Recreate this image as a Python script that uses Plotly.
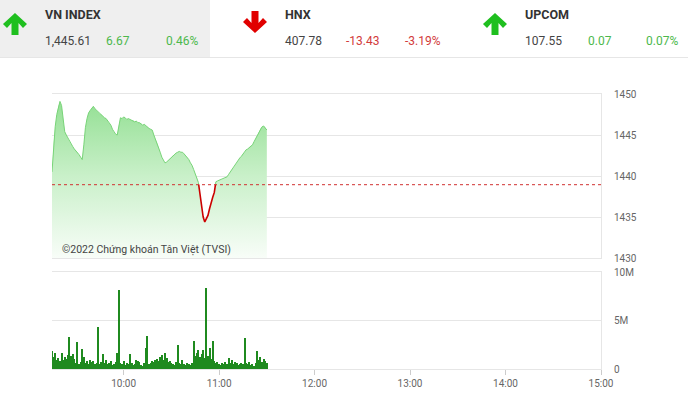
import pandas as pd
import plotly.graph_objects as go

# ---------------- data ----------------
session_start = "2022-01-01 09:15"
price = [
    1440.5, 1444.0, 1446.0, 1447.5, 1448.5, 1449.1, 1448.6, 1447.0, 1445.4, 1445.0,
    1444.6, 1444.2, 1443.9, 1443.6, 1443.3, 1443.1, 1442.9, 1442.6, 1442.3, 1442.0,
    1443.8, 1445.9, 1447.0, 1447.7, 1448.0, 1448.3, 1448.5, 1448.2, 1448.0, 1447.8,
    1447.6, 1447.5, 1447.3, 1447.1, 1447.0, 1446.7, 1446.4, 1446.2, 1445.7, 1445.3,
    1445.1, 1445.0, 1446.2, 1447.1, 1447.0, 1447.2, 1447.1, 1446.9, 1447.0, 1446.9,
    1446.8, 1446.8, 1446.6, 1446.7, 1446.5, 1446.5, 1446.4, 1446.2, 1446.3, 1446.1,
    1446.0, 1445.8, 1445.7, 1445.6, 1445.0, 1444.5, 1444.1, 1443.5, 1442.9, 1442.3,
    1441.9, 1441.6, 1441.7, 1441.9, 1442.1, 1442.3, 1442.5, 1442.6, 1442.8, 1442.9,
    1443.0, 1442.9, 1442.9, 1442.7, 1442.5, 1442.3, 1442.0, 1441.6, 1441.3, 1440.8,
    1440.3, 1439.9, 1439.2, 1437.7, 1436.1, 1435.0, 1434.4, 1434.8, 1435.2, 1436.0,
    1436.8, 1437.4, 1438.0, 1439.3, 1439.4, 1439.5, 1439.5, 1439.6, 1439.7, 1439.8,
    1439.9, 1440.2, 1440.5, 1440.8, 1441.0, 1441.3, 1441.6, 1441.9, 1442.2, 1442.4,
    1442.7, 1442.9, 1443.2, 1443.3, 1443.5, 1443.7, 1443.8, 1444.2, 1444.6, 1445.0,
    1445.4, 1445.8, 1446.0, 1446.1, 1445.9, 1445.61,
]
volume_m = [
    1.9, 1.2, 1.6, 0.9, 1.1, 0.8, 1.6, 0.9, 1.2, 1.0,
    1.4, 3.3, 1.3, 1.5, 1.0, 0.6, 2.8, 0.5, 0.7, 2.1,
    1.2, 0.6, 0.8, 0.5, 0.9, 0.7, 0.8, 0.5, 0.6, 4.3,
    0.5, 0.7, 1.5, 0.6, 0.9, 0.5, 0.6, 0.8, 0.4, 0.5,
    0.7, 1.7, 8.1, 0.6, 0.5, 0.8, 0.4, 0.6, 0.5, 1.5,
    0.6, 0.4, 0.5, 0.9, 0.8, 0.7, 0.4, 0.3, 0.6, 2.2,
    3.4, 0.5, 0.6, 0.8, 0.7, 0.9, 1.0, 0.8, 1.2, 1.4,
    0.9, 1.7, 1.1, 0.7, 0.8, 0.6, 0.5, 0.4, 0.7, 2.5,
    0.6, 0.5, 0.9, 0.5, 0.4, 0.6, 0.5, 0.4, 0.6, 2.9,
    1.3, 1.6, 2.0, 1.2, 1.5, 2.0, 1.1, 8.4, 1.3, 2.2,
    1.0, 2.9, 0.8, 0.6, 0.7, 0.5, 0.4, 0.6, 0.5, 0.7,
    0.5, 1.1, 0.6, 0.9, 0.5, 0.7, 0.6, 0.4, 0.5, 0.6,
    0.5, 3.2, 0.6, 0.5, 0.7, 0.4, 0.5, 0.3, 0.6, 1.9,
    0.9, 1.2, 0.7, 1.0, 0.8, 0.6,
]
reference_level = 1438.94
tick_times = ["10:00", "11:00", "12:00", "13:00", "14:00", "15:00"]
vol_tickvals = [0, 5e6, 10e6]
vol_ticktext = ["0", "5M", "10M"]
indices = [
    ("VN INDEX", "1,445.61", "6.67", "0.46%", "up"),
    ("HNX", "407.78", "-13.43", "-3.19%", "down"),
    ("UPCOM", "107.55", "0.07", "0.07%", "up"),
]

# ---------------- helpers ----------------
W, H = 688, 396
def px(x):
    return x / W
def py(y):
    return 1 - y / H

times = list(pd.date_range(session_start, periods=len(price), freq="min"))
volume = [v * 1e6 for v in volume_m]

# insert crossings of the reference level so the colour split is clean
xs, ys = [], []
for i in range(len(price)):
    xs.append(times[i]); ys.append(price[i])
    if i + 1 < len(price):
        a, b = price[i], price[i + 1]
        if (a - reference_level) * (b - reference_level) < 0:
            f = (reference_level - a) / (b - a)
            xs.append(times[i] + (times[i + 1] - times[i]) * f)
            ys.append(reference_level)
green_y = [y if y >= reference_level else None for y in ys]
red_y = [y if y <= reference_level else None for y in ys]

x_start = pd.Timestamp(session_start)
x_end = pd.Timestamp("2022-01-01 15:00")
tickvals = [pd.Timestamp("2022-01-01 " + t) for t in tick_times]

fig = go.Figure()
fig.add_trace(go.Scatter(
    x=xs, y=ys, mode="none", fill="tozeroy", xaxis="x2", yaxis="y2",
    fillgradient=dict(type="vertical", start=1430, stop=1450,
                      colorscale=[[0, "#f8fdf8"], [0.5, "#c9f0c9"], [1, "#8fde8f"]]),
    hoverinfo="skip", showlegend=False))
fig.add_trace(go.Scatter(x=xs, y=green_y, mode="lines", xaxis="x2", yaxis="y2",
                         line=dict(color="#78d478", width=1), connectgaps=False,
                         showlegend=False))
fig.add_trace(go.Scatter(x=xs, y=red_y, mode="lines", xaxis="x2", yaxis="y2",
                         line=dict(color="#cc0000", width=1.6), connectgaps=False,
                         showlegend=False))
fig.add_trace(go.Bar(x=times, y=volume, xaxis="x", yaxis="y",
                     marker=dict(color="#1f8a1f", line=dict(width=0)),
                     width=40000, showlegend=False))

grid = "#e6e6e6"
tickfont = dict(family="Roboto", size=10, color="#666")
fig.update_layout(
    template="none",
    width=W, height=H, margin=dict(l=0, r=0, t=0, b=0, autoexpand=False),
    paper_bgcolor="white", plot_bgcolor="white", bargap=0,
    xaxis=dict(domain=[px(52), px(601)], anchor="y", type="date", automargin=False,
               range=[x_start, x_end], tickvals=tickvals, tickformat="%H:%M",
               ticks="outside", ticklen=5, tickcolor="#cccccc", showgrid=False,
               showline=True, linecolor=grid, mirror=True, tickfont=tickfont,
               zeroline=False),
    xaxis2=dict(domain=[px(52), px(601)], anchor="y2", matches="x", type="date",
                automargin=False,
                showticklabels=False, ticks="", showgrid=False,
                showline=True, linecolor=grid, mirror=True, zeroline=False),
    yaxis=dict(domain=[py(369), py(272)], range=[0, 10e6], side="right", automargin=False,
               tickvals=vol_tickvals, ticktext=vol_ticktext, gridcolor=grid,
               showline=True, linecolor=grid, ticks="", ticklabelstandoff=10,
               tickfont=tickfont, zeroline=False),
    yaxis2=dict(domain=[py(258), py(94)], range=[1430, 1450], side="right", automargin=False,
                dtick=5, gridcolor=grid, showline=True, linecolor=grid, ticks="",
                ticklabelstandoff=10, tickfont=tickfont, zeroline=False),
)

shapes = [
    dict(type="rect", xref="paper", yref="paper", x0=0, x1=px(210), y0=py(57), y1=1,
         fillcolor="#efefef", line=dict(width=0), layer="below"),
    dict(type="line", xref="paper", yref="paper", x0=0, x1=1, y0=py(57.5), y1=py(57.5),
         line=dict(color="#e6e6e6", width=1)),
    dict(type="line", xref="x2", yref="y2", x0=x_start, x1=x_end,
         y0=reference_level, y1=reference_level,
         line=dict(color="#d03030", width=1, dash="dot")),
]

def arrow(cx, top, up, color):
    pts = [(0, 0), (12, 11), (8, 15), (3.5, 10), (3.5, 22), (-3.5, 22),
           (-3.5, 10), (-8, 15), (-12, 11)]
    coords = []
    for dx, dy in pts:
        yy = top + dy if up else top + 22 - dy
        coords.append((px(cx + dx), py(yy)))
    path = "M " + " L ".join(f"{a:.5f},{b:.5f}" for a, b in coords) + " Z"
    return dict(type="path", xref="paper", yref="paper", path=path,
                fillcolor=color, line=dict(width=0))

arrow_pos = [(15, 13), (255, 11), (495, 13)]
label_x = [43, 283, 523]
chg_x = [104, 344, 586]
pct_right = [200, 443, 680]
annotations = []
for (name, val, chg, pct, d), (ax, at), lx, cx2, pr in zip(indices, arrow_pos, label_x, chg_x, pct_right):
    up = d == "up"
    col = "#4cb84c" if up else "#d23b3b"
    shapes.append(arrow(ax, at, up, "#1fbf1f" if up else "#e10000"))
    annotations += [
        dict(x=px(lx), y=py(15), text=f"<b>{name}</b>", xanchor="left", yanchor="middle",
             font=dict(family="Roboto", size=12.5, color="#333")),
        dict(x=px(lx), y=py(41), text=val, xanchor="left", yanchor="middle",
             font=dict(family="Roboto", size=12, color="#444")),
        dict(x=px(cx2), y=py(41), text=chg, xanchor="left", yanchor="middle",
             font=dict(family="Roboto", size=12, color=col)),
        dict(x=px(pr), y=py(41), text=pct, xanchor="right", yanchor="middle",
             font=dict(family="Roboto", size=12, color=col)),
    ]
annotations.append(dict(x=px(60), y=py(250), text="©2022 Chứng khoán Tân Việt (TVSI)",
                        xanchor="left", yanchor="middle",
                        font=dict(family="Roboto", size=10.5, color="#444")))
for a in annotations:
    a.update(xref="paper", yref="paper", showarrow=False)

fig.update_layout(shapes=shapes, annotations=annotations)
fig.write_html("out.html")
